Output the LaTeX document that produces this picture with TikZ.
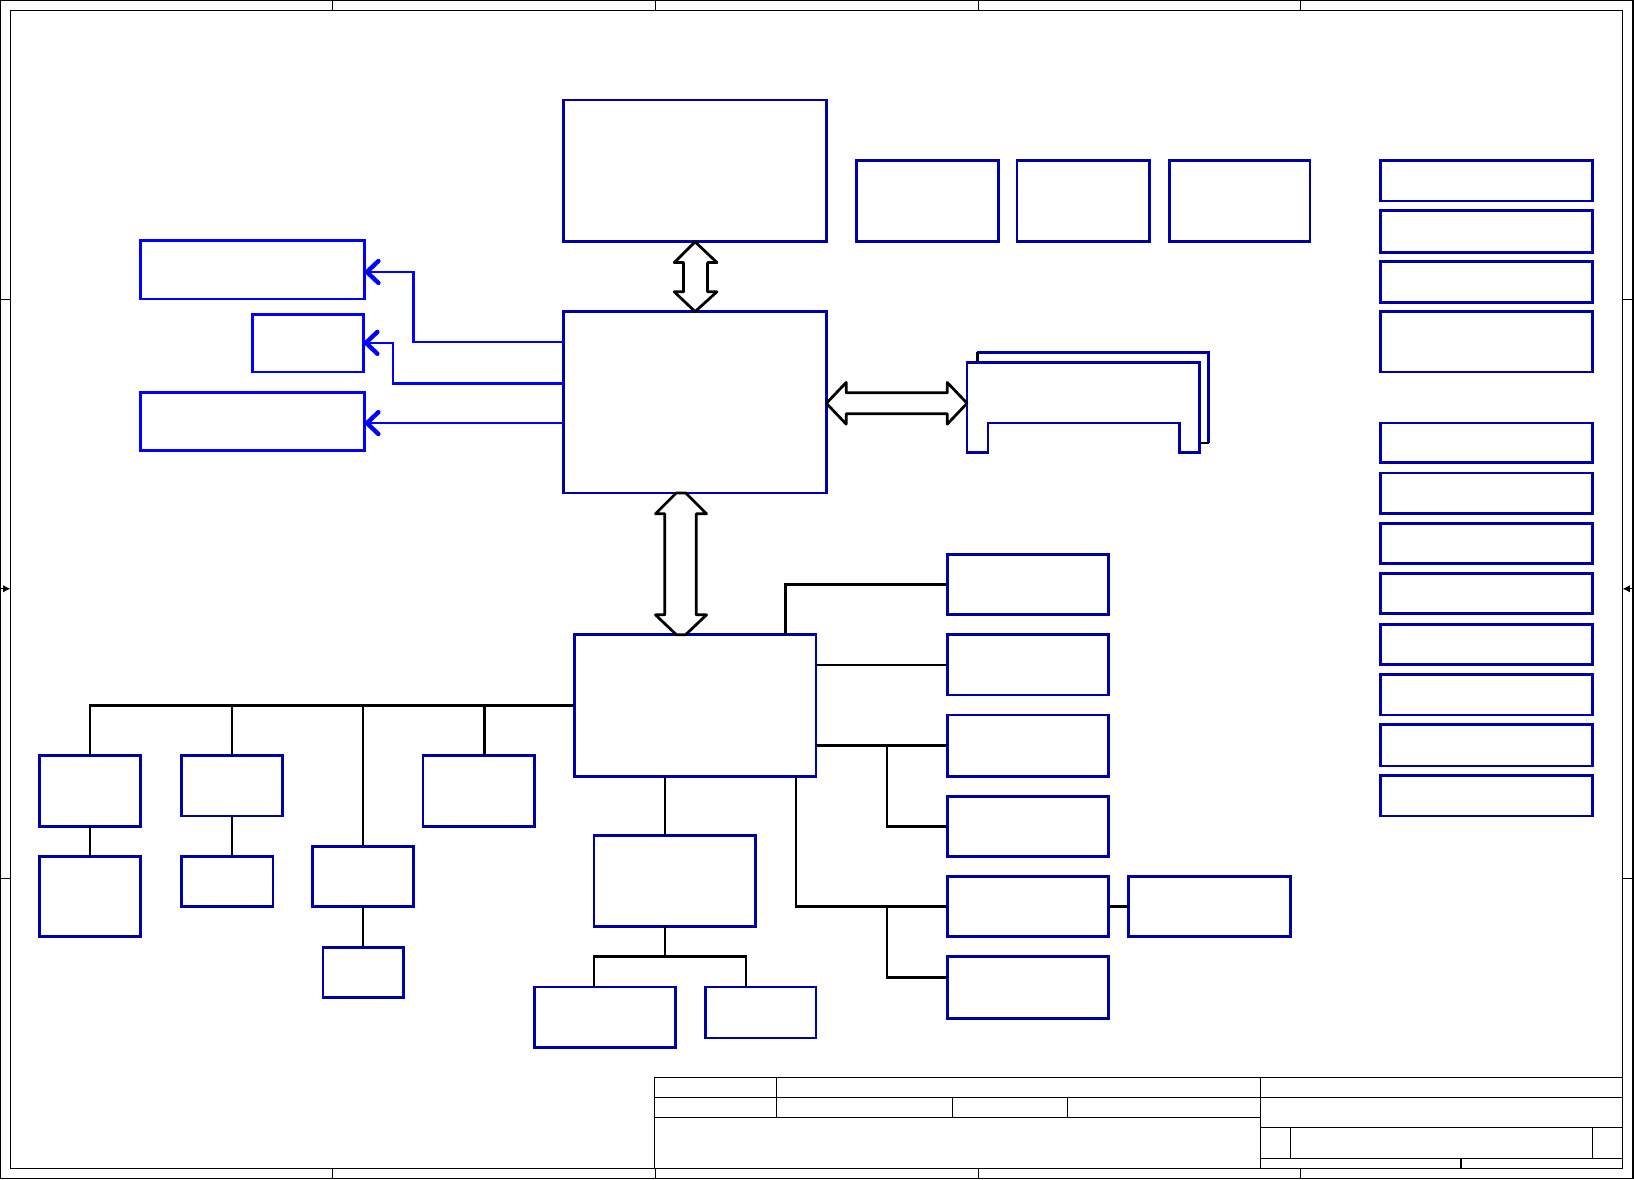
\documentclass[tikz,border=0pt]{standalone}
\usetikzlibrary{arrows.meta,fit}
\definecolor{boxblue}{RGB}{0,0,168}
\definecolor{linkblue}{RGB}{0,0,255}
\begin{document}
\begin{tikzpicture}[x=0.02cm,y=-0.02cm,
  blk/.style={draw=boxblue,line width=1.5pt,inner sep=0pt,outer sep=0pt},
  vblk/.style={draw=linkblue,line width=1.5pt,inner sep=0pt,outer sep=0pt},
  wire/.style={line width=1.4pt},
  link/.style={draw=linkblue,line width=1.4pt,-{Straight Barb[length=0.22cm,width=0.42cm,line width=2.4pt,round]}},
  fat/.style={draw=black,fill=white,line width=1.5pt,line join=round},
  frame/.style={line width=0.6pt}]
  \useasboundingbox (0,0) rectangle (1568,1132);
  % sheet frame
  \draw[frame] (0.5,0.5) rectangle (1567,1131);
  \draw[frame] (10,10) rectangle (1557,1121);
  \foreach \x in {319,629,939,1248} {
    \draw[frame] (\x,0.5) -- (\x,10);
    \draw[frame] (\x,1121) -- (\x,1131);
  }
  \foreach \y in {287,843} {
    \draw[frame] (0.5,\y) -- (10,\y);
    \draw[frame] (1557,\y) -- (1567,\y);
  }
  \draw[frame,-{Latex[length=4pt,width=4pt]}] (0.5,565) -- (10,565);
  \draw[frame,-{Latex[length=4pt,width=4pt]}] (1567,565) -- (1557,565);
  % title block
  \draw[frame] (628,1121) -- (628,1034) -- (1557,1034);
  \draw[frame] (628,1053) -- (1557,1053);
  \draw[frame] (628,1072) -- (1210,1072);
  \draw[frame] (1210,1082) -- (1557,1082);
  \draw[frame] (1210,1112) -- (1557,1112);
  \draw[frame] (745,1034) -- (745,1072);
  \draw[frame] (914,1053) -- (914,1072);
  \draw[frame] (1024,1053) -- (1024,1072);
  \draw[frame] (1210,1034) -- (1210,1121);
  \draw[frame] (1238,1082) -- (1238,1112);
  \draw[frame] (1528,1082) -- (1528,1112);
  \draw[frame] (1402,1112) -- (1402,1121);

  % blocks
  \node[blk,fit={(541,96) (793,232)}] (cpu) {};
  \node[blk,fit={(822,154) (958,232)}] (clk) {};
  \node[blk,fit={(976,154) (1103,232)}] (thm) {};
  \node[blk,fit={(1122,154) (1257,232)}] (fan) {};
  \node[blk,fit={(541,299) (793,473)}] (nb) {};
  \node[blk,fit={(551,609) (783,745)}] (sb) {};
  \node[vblk,fit={(135,231) (350,287)}] (lcd) {};
  \node[vblk,fit={(242,302) (349,357)}] (crt) {};
  \node[vblk,fit={(135,377) (350,432)}] (tvo) {};

  \node[blk,fit={(1325,154) (1528,193)}] (pwr1) {};
  \node[blk,fit={(1325,202) (1528,242)}] (pwr2) {};
  \node[blk,fit={(1325,251) (1528,290)}] (pwr3) {};
  \node[blk,fit={(1325,299) (1528,357)}] (pwr4) {};
  \foreach \t/\b [count=\i from 5] in {406/444,454/493,502/541,550/589,599/638,647/686,695/735,744/783}
    \node[blk,fit={(1325,\t) (1528,\b)}] (pwr\i) {};

  \node[blk,fit={(909,532) (1064,590)}] (usb) {};
  \node[blk,fit={(909,609) (1064,667)}] (lan) {};
  \node[blk,fit={(909,686) (1064,745)}] (aud) {};
  \node[blk,fit={(909,764) (1064,822)}] (amp) {};
  \node[blk,fit={(909,841) (1064,899)}] (ec) {};
  \node[blk,fit={(1083,841) (1238,899)}] (kbd) {};
  \node[blk,fit={(909,918) (1064,977)}] (bios) {};

  \node[blk,fit={(38,725) (135,793)}] (ide) {};
  \node[blk,fit={(38,822) (135,899)}] (hdd) {};
  \node[blk,fit={(174,725) (271,783)}] (odd) {};
  \node[blk,fit={(174,822) (262,870)}] (cdr) {};
  \node[blk,fit={(300,812) (397,870)}] (pcm) {};
  \node[blk,fit={(310,909) (387,957)}] (card) {};
  \node[blk,fit={(406,725) (513,793)}] (mdc) {};
  \node[blk,fit={(570,802) (725,889)}] (lpc) {};
  \node[blk,fit={(513,947) (648,1005)}] (sio) {};
  \node[blk,fit={(677,947) (783,996)}] (flash) {};

  % memory slots
  \draw[boxblue,line width=1.5pt] (938,338) -- (1160,338) -- (1160,425);
  \draw[wire] (938,338) -- (938,348);
  \draw[wire] (1151,425) -- (1160,425);
  \draw[boxblue,line width=1.5pt] (928,348) -- (1151,348) -- (1151,434) -- (1132,434)
    -- (1132,406) -- (948,406) -- (948,434) -- (928,434) -- cycle;

  % host buses
  \draw[fat] (667,232) -- (688,252) -- (679,252) -- (679,280) -- (688,280) -- (667,299)
    -- (647,280) -- (656,280) -- (656,252) -- (647,252) -- cycle;
  \draw[fat] (793,387) -- (812,367) -- (812,377) -- (909,377) -- (909,367) -- (928,387)
    -- (909,407) -- (909,397) -- (812,397) -- (812,407) -- cycle;
  \draw[fat] (649,473) -- (658,473) -- (678,493) -- (668,493) -- (668,590) -- (678,590)
    -- (658,609) -- (649,609) -- (629,590) -- (638,590) -- (638,493) -- (629,493) -- cycle;

  % video outputs
  \draw[link] (nb.west |- 0,328) -| (397,261) -- (lcd.east |- 0,261);
  \draw[link] (nb.west |- 0,368) -| (377,329) -- (crt.east |- 0,329);
  \draw[link] (nb.west |- 0,406) -- (tvo.east |- 0,406);

  % south bridge
  \draw[wire] (sb.west) -| (ide.north);
  \draw[wire] (ide.south) -- (hdd.north);
  \draw[wire] (odd.north) |- (sb.west);
  \draw[wire] (odd.south) -- (odd.south |- cdr.north);
  \draw[wire] (pcm.north) |- (sb.west);
  \draw[wire] (pcm.south) -- (card.north);
  \draw[wire] (mdc.north -| 465,0) |- (sb.west);

  \draw[wire] (sb.north -| 754,0) |- (usb.west);
  \draw[wire] (sb.east |- lan.west) -- (lan.west);
  \draw[wire] (sb.east |- aud.west) -- (aud.west);
  \draw[wire] (aud.west -| 851,0) |- (amp.west);
  \draw[wire] (sb.south -| 764,0) |- (ec.west);
  \draw[wire] (ec.west -| 851,0) |- (bios.west |- 0,938);
  \draw[wire] (ec.east) -- (kbd.west);

  \coordinate (lpcbus) at (638,918);
  \draw[wire] (sb.south -| lpcbus) -- (lpc.north -| lpcbus);
  \draw[wire] (lpc.south -| lpcbus) -- (lpcbus);
  \draw[wire] (sio.north -| 570,0) -- (570,918) -- (716,918) -- (flash.north -| 716,0);
\end{tikzpicture}
\end{document}
